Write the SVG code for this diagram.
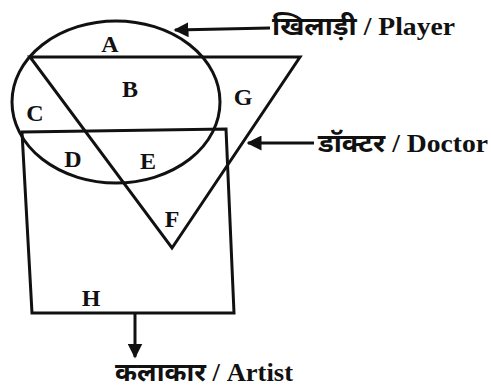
<svg xmlns="http://www.w3.org/2000/svg" width="491" height="388" viewBox="0 0 491 388">
<style>
.s{fill:none;stroke:#111;stroke-width:3}
.l{font-family:"Liberation Serif","Noto Serif",serif;font-weight:bold;font-size:24px;fill:#111;text-anchor:middle}
.t{font-family:"Liberation Serif","Noto Sans Devanagari","Noto Sans",serif;font-weight:bold;font-size:25px;fill:#111}
</style>
<defs>
<marker id="ah" viewBox="0 0 10 10" refX="9" refY="5" markerWidth="5" markerHeight="5" orient="auto-start-reverse">
<path d="M0,0 L10,5 L0,10 z" fill="#111"/>
</marker>
</defs>
<rect width="491" height="388" fill="#fff"/>
<g id="player"><ellipse class="s" cx="116" cy="102" rx="104" ry="81"/></g>
<g id="doctor"><polygon class="s" points="30,57 300,57 172,248"/></g>
<g id="artist"><polygon class="s" points="22,132 226,129 234,313 32,313"/></g>
<g id="regions">
<text class="l" x="110" y="52">A</text>
<text class="l" x="130" y="97">B</text>
<text class="l" x="243" y="105">G</text>
<text class="l" x="35" y="121">C</text>
<text class="l" x="73" y="167">D</text>
<text class="l" x="148" y="169">E</text>
<text class="l" x="172" y="227">F</text>
<text class="l" x="91" y="306">H</text>
</g>
<g id="connectors">
<line class="s" x1="270" y1="28" x2="175" y2="30" marker-end="url(#ah)"/>
<line class="s" x1="314" y1="143" x2="248" y2="143" marker-end="url(#ah)"/>
<line class="s" x1="135" y1="313" x2="135" y2="357" marker-end="url(#ah)"/>
</g>
<g id="labels">
<text class="t" x="272" y="35" textLength="183" lengthAdjust="spacingAndGlyphs">खिलाड़ी / Player</text>
<text class="t" x="318" y="152" textLength="170" lengthAdjust="spacingAndGlyphs">डॉक्टर / Doctor</text>
<text class="t" x="115" y="381" textLength="178" lengthAdjust="spacingAndGlyphs">कलाकार / Artist</text>
</g>
</svg>
